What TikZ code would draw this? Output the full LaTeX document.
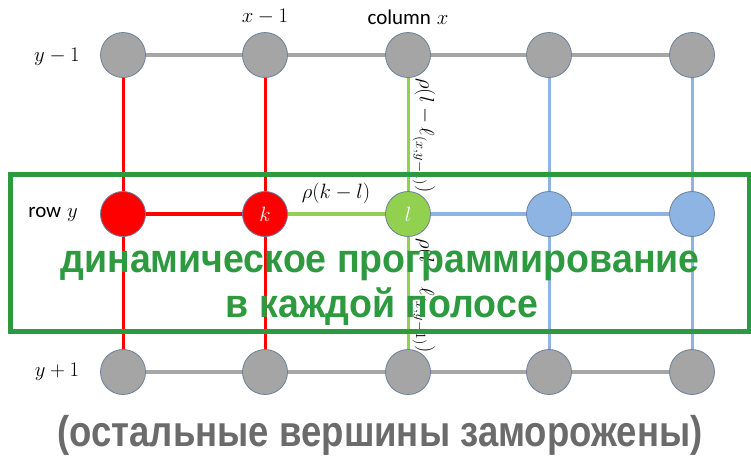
\documentclass[tikz,border=0pt]{standalone}
\usepackage{fontspec}
\setmainfont{Liberation Sans}
\newfontfamily\carl{Carlito}
\usepackage{graphicx}
\definecolor{vgray}{HTML}{A5A5A5}
\definecolor{vedge}{HTML}{6A819E}
\definecolor{lgray}{HTML}{A6A6A6}
\definecolor{vred}{HTML}{FF0000}
\definecolor{vgreen}{HTML}{92D050}
\definecolor{vblue}{HTML}{8DB4E2}
\definecolor{boxgreen}{HTML}{2E9A40}
\definecolor{txtgray}{HTML}{6B6B6B}
\tikzset{
  vert/.style={circle, minimum size=45pt, inner sep=0pt, draw=vedge, line width=0.8pt},
  grayv/.style={vert, fill=vgray},
  redv/.style={vert, fill=vred},
  greenv/.style={vert, fill=vgreen},
  bluev/.style={vert, fill=vblue},
  hgray/.style={draw=lgray, line width=3.5pt},
  hred/.style={draw=vred, line width=3.5pt},
  hgreen/.style={draw=vgreen, line width=3.5pt},
  hblue/.style={draw=vblue, line width=3.5pt},
  vline/.style={line width=3pt},
  lab/.style={font=\fontsize{21}{25}\selectfont, inner sep=0pt},
  rlab/.style={font=\fontsize{22}{26}\selectfont, inner sep=0pt, rotate=-90, anchor=west},
  ru/.style={text=boxgreen, font=\bfseries\fontsize{40}{48}\selectfont, inner sep=0pt, anchor=base},
}
\begin{document}
\begin{tikzpicture}[x=1pt,y=-1pt]
\useasboundingbox (0,0) rectangle (751,459);
% vertices
\foreach \c/\x in {1/123,2/265,3/408,4/549,5/692}{
  \coordinate (t\c) at (\x,55);
  \coordinate (m\c) at (\x,214);
  \coordinate (b\c) at (\x,372);
}
% vertical edges
\draw[vline, vred] (t1) -- (b1);
\draw[vline, vred] (t2) -- (b2);
\draw[vline, vgreen] (t3) -- (b3);
\draw[vline, vblue] (t4) -- (b4);
\draw[vline, vblue] (t5) -- (b5);
% horizontal edges
\draw[hgray] (t1) -- (t5);
\draw[hgray] (b1) -- (b5);
\draw[hred] (m1) -- (m2);
\draw[hgreen] (m2) -- (m3);
\draw[hblue] (m3) -- (m5);
% nodes
\foreach \c in {1,...,5}{
  \node[grayv] (T\c) at (t\c) {};
  \node[grayv] (B\c) at (b\c) {};
}
\node[redv] (M1) at (m1) {};
\node[redv] (M2) at (m2) {\color{white}\fontsize{21}{25}\selectfont$k$};
\node[greenv] (M3) at (m3) {\color{white}\fontsize{21}{25}\selectfont$l$};
\node[bluev] (M4) at (m4) {};
\node[bluev] (M5) at (m5) {};
% labels
\node[lab] (lx1) at (265,17) {$x-1$};
\node[lab] (lcx) at (408,17) {{\carl column} $x$};
\node[lab] (ly1) at (57,57) {$y-1$};
\node[lab] (lry) at (53,214) {{\carl row} $y$};
\node[lab] (ly2) at (57,372) {$y+1$};
\node[lab] (rkl) at (336,193) {$\rho(k-l)$};
\node[rlab] (r1) at (424,78) {$\rho(l-\ell_{(x,y-1)})$};
\node[rlab] (r2) at (424,238) {$\rho(l-\ell_{(x,y-1)})$};
% band
\draw[boxgreen, line width=5pt] (10,174.5) rectangle (749,331);
\node[ru] (t1txt) at (380,272) {\scalebox{0.938}[1]{динамическое программирование}};
\node[ru] (t2txt) at (382,317) {\scalebox{0.938}[1]{в каждой полосе}};
\node[text=txtgray, font=\bfseries\fontsize{43}{50}\selectfont, inner sep=0pt, anchor=base] (frozen) at (380,446) {\scalebox{0.85}[1]{(остальные вершины заморожены)}};
\end{tikzpicture}
\end{document}
